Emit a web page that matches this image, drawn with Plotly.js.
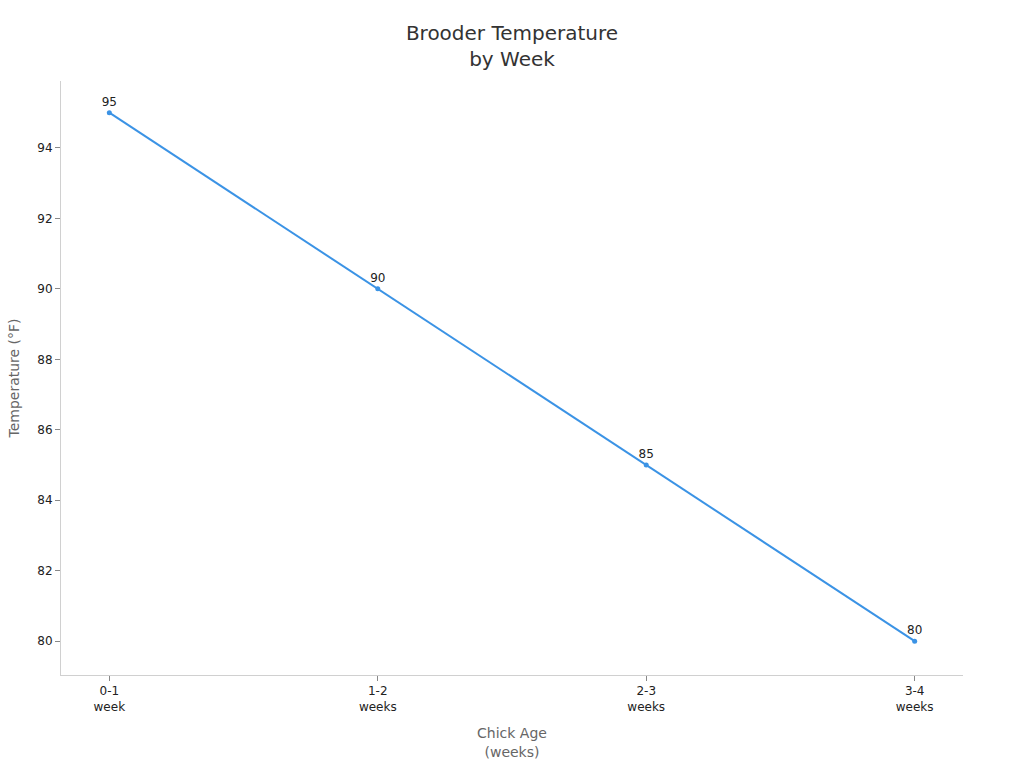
<!DOCTYPE html>
<html>
<head>
<meta charset="utf-8">
<script src="https://cdn.plot.ly/plotly-3.0.1.min.js"></script>
<style>
  html, body { margin: 0; padding: 0; background: #fff; }
  #chart { width: 1024px; height: 768px; }
</style>
</head>
<body>
<div id="chart"></div>
<script>
// Brooder temperature by chick age
const ageLabels = ["0-1<br>week", "1-2<br>weeks", "2-3<br>weeks", "3-4<br>weeks"];
const tempsF = [95, 90, 85, 80];

const LINE_BLUE = "#3b93e5";
const FONT = "DejaVu Sans, sans-serif";

const trace = {
  x: ageLabels,
  y: tempsF,
  type: "scatter",
  mode: "lines+markers+text",
  line: { color: LINE_BLUE, width: 2 },
  marker: { color: LINE_BLUE, size: 5 },
  text: tempsF.map(String),
  textposition: "top center",
  textfont: { size: 12, color: "#222", family: FONT },
  hoverinfo: "x+y",
  showlegend: false,
};

const layout = {
  width: 1024,
  height: 768,
  paper_bgcolor: "#fff",
  plot_bgcolor: "#fff",
  font: { family: FONT, color: "#333" },
  margin: { l: 61, r: 61, t: 81, b: 93 },
  title: {
    text: "Brooder Temperature<br>by Week",
    font: { size: 20, color: "#333", family: FONT },
    x: 0.5,
    xanchor: "center",
    y: 0.948,
    yanchor: "top",
  },
  xaxis: {
    type: "category",
    range: [-0.18, 3.18],
    showgrid: false,
    zeroline: false,
    showline: true,
    linecolor: "#d0d0d0",
    linewidth: 1,
    ticks: "outside",
    ticklen: 5,
    tickcolor: "#888",
    tickfont: { size: 12, color: "#222", family: FONT },
    title: { text: "Chick Age<br>(weeks)", font: { size: 14, color: "#666", family: FONT }, standoff: 15 },
  },
  yaxis: {
    range: [79.04, 95.9],
    dtick: 2,
    showgrid: false,
    zeroline: false,
    showline: true,
    linecolor: "#d0d0d0",
    linewidth: 1,
    ticks: "outside",
    ticklen: 5,
    tickcolor: "#888",
    tickfont: { size: 12, color: "#222", family: FONT },
    title: { text: "Temperature (°F)", font: { size: 14, color: "#666", family: FONT }, standoff: 14 },
  },
  showlegend: false,
};

Plotly.newPlot("chart", [trace], layout, { displayModeBar: false, responsive: false });
</script>
</body>
</html>
